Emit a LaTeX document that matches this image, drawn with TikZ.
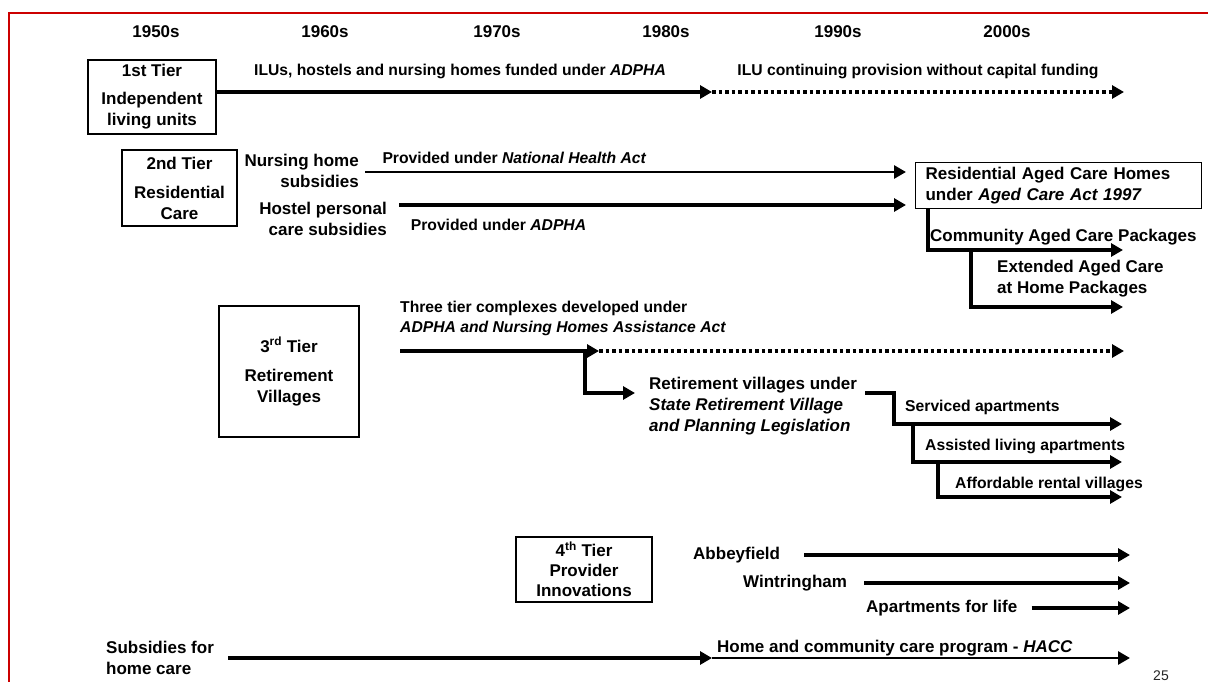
\documentclass[tikz,border=0pt]{standalone}
\usepackage{fontspec}
\setmainfont{Liberation Sans}
\usetikzlibrary{arrows.meta}
\definecolor{framered}{RGB}{204,0,0}
\begin{document}
\begin{tikzpicture}[x=1pt,y=-1pt,
  big/.style={font=\fontsize{17}{21}\selectfont\bfseries, inner sep=0pt},
  sml/.style={font=\fontsize{15.7}{20}\selectfont\bfseries, inner sep=0pt},
  tierbox/.style={draw, line width=1.2pt, inner sep=0pt, align=center, font=\fontsize{17}{21}\selectfont\bfseries},
  arr/.style={line width=3.8pt, -{Triangle[length=12pt,width=13pt]}},
  thinarr/.style={line width=2.8pt, -{Triangle[length=12pt,width=13pt]}},
  dotarr/.style={line width=3.8pt, dash pattern=on 3.5pt off 3pt, -{Triangle[length=12pt,width=13pt]}}
]
\useasboundingbox (0,0) rectangle (1208,682);
\fill[white] (0,0) rectangle (1208,682);
% frame
\draw[framered, line width=1.5pt] (9,682) -- (9,13) -- (1208,13);

% decades
\node[big] (y50) at (156,32) {1950s};
\node[big] (y60) at (325,32) {1960s};
\node[big] (y70) at (497,32) {1970s};
\node[big] (y80) at (666,32) {1980s};
\node[big] (y90) at (838,32) {1990s};
\node[big] (y00) at (1007,32) {2000s};

% 1st tier
\node[tierbox, minimum width=128, minimum height=74] (t1) at (152,97) {1st Tier\\[7pt]Independent\\living units};
\coordinate (a1m) at (712,92);
\coordinate (a1e) at (1124,92);
\draw[arr] (t1.east |- a1m) -- (a1m);
\draw[dotarr] (a1m) -- (a1e);
\node[sml] (l1) at (460,71) {ILUs, hostels and nursing homes funded under \textit{ADPHA}};
\node[sml] (l2) at (918,71) {ILU continuing provision without capital funding};

% 2nd tier
\node[tierbox, minimum width=115, minimum height=76] (t2) at (179.5,188) {2nd Tier\\[8pt]Residential\\Care};
\node[big, align=right, anchor=east] (nh) at (359,170.5) {Nursing home\\subsidies};
\node[big, align=right, anchor=east] (hp) at (387,218.5) {Hostel personal\\care subsidies};
\node[draw, line width=1.2pt, anchor=north west, minimum width=286, minimum height=46,
      text width=266, inner xsep=10pt, inner ysep=0pt, align=left,
      font=\fontsize{17}{21}\selectfont\bfseries] (rac) at (915,162)
      {Residential Aged Care Homes\\under \textit{Aged Care Act 1997}};
\coordinate (nhs) at (365,172);
\coordinate (hps) at (399,205);
\draw[thinarr, shorten >=9pt] (nhs) -- (rac.west |- nhs);
\draw[arr, shorten >=9pt] (hps) -- (rac.west |- hps);
\node[sml] (l3) at (514.5,158) {Provided under \textit{National Health Act}};
\node[sml] (l4) at (498.5,225) {Provided under \textit{ADPHA}};

\coordinate (cacp) at (1123,250);
\coordinate (b2) at (971,250);
\coordinate (ext) at (1123,307);
\draw[arr] ([xshift=13pt]rac.south west) |- (cacp);
\draw[arr] (b2) |- (ext);
\node[big, anchor=west] (l5) at (930,237) {Community Aged Care Packages};
\node[big, anchor=west, align=left] (l6) at (997,278.5) {Extended Aged Care\\at Home Packages};

% 3rd tier
\node[tierbox, minimum width=140, minimum height=131] (t3) at (289,371.5) {3\textsuperscript{rd} Tier\\[8pt]Retirement\\Villages};
\node[sml, anchor=west, align=left] (l7) at (400,318) {Three tier complexes developed under\\\textit{ADPHA and Nursing Homes Assistance Act}};
\coordinate (t3s) at (400,351);
\coordinate (t3m) at (599,351);
\coordinate (t3e) at (1124,351);
\coordinate (t3b) at (585,351);
\coordinate (rva) at (635,393);
\draw[arr] (t3s) -- (t3m);
\draw[dotarr] (t3m) -- (t3e);
\draw[arr] (t3b) |- (rva);
\node[big, anchor=west, align=left] (rv) at (649,406.5) {Retirement villages under\\\textit{State Retirement Village}\\\textit{and Planning Legislation}};

\coordinate (rvl) at (865,393);
\coordinate (sa) at (1122,424);
\coordinate (b3) at (913,424);
\coordinate (al) at (1122,462);
\coordinate (b4) at (938,462);
\coordinate (ar) at (1122,497);
\draw[arr] (rvl) -- ++(29,0) |- (sa);
\draw[arr] (b3) |- (al);
\draw[arr] (b4) |- (ar);
\node[sml, anchor=west] (l8) at (905,407) {Serviced apartments};
\node[sml, anchor=west] (l9) at (925,446) {Assisted living apartments};
\node[sml, anchor=west] (l10) at (955,484) {Affordable rental villages};

% 4th tier
\node[tierbox, minimum width=136, minimum height=65, font=\fontsize{17}{20}\selectfont\bfseries] (t4) at (584,569.5) {4\textsuperscript{th} Tier\\Provider\\Innovations};
\node[big, anchor=west] (abb) at (693,555) {Abbeyfield};
\node[big, anchor=west] (win) at (743,583) {Wintringham};
\node[big, anchor=west] (apl) at (866,608) {Apartments for life};
\coordinate (abbE) at (1130,555);
\coordinate (winE) at (1130,583);
\coordinate (aplE) at (1130,608);
\draw[arr] ([xshift=24pt]abb.east) -- (abbE);
\draw[arr] ([xshift=17pt]win.east) -- (winE);
\draw[arr] ([xshift=14pt]apl.east) -- (aplE);

% home care
\node[big, anchor=west, align=left] (sub) at (106,658) {Subsidies for\\home care};
\coordinate (hm) at (712,658);
\coordinate (hE) at (1130,658);
\draw[arr] ([xshift=14pt]sub.east |- hm) -- (hm);
\draw[thinarr] (hm) -- (hE);
\node[big, anchor=west] (l11) at (717,648) {Home and community care program - \textit{HACC}};

\node[font=\fontsize{14}{14}\selectfont, inner sep=0pt, text=black!85] (pg) at (1161,676) {25};
\end{tikzpicture}
\end{document}
